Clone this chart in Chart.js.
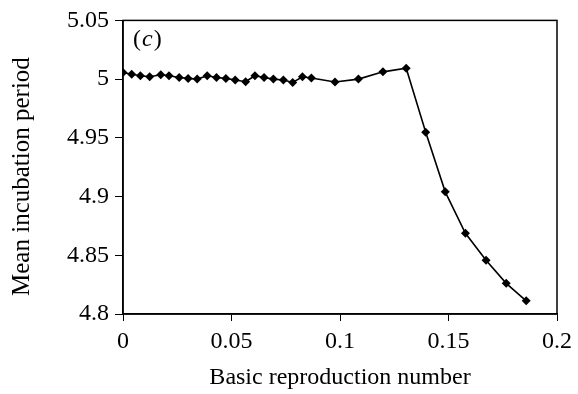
<!DOCTYPE html>
<html lang="en">
<head>
    <meta charset="UTF-8">
    <title>Mean incubation period vs basic reproduction number</title>
    <script src="https://cdn.jsdelivr.net/npm/chart.js"></script>
    <style>
        html, body { margin: 0; padding: 0; background: #fff; }
        canvas { display: block; }
    </style>
</head>
<body>
    <canvas id="incubation" width="578" height="394"></canvas>

    <script>
        // data
        const r0Values = [0, 0.004, 0.008, 0.0123, 0.0174, 0.0212, 0.0259, 0.030, 0.0342, 0.0388,
            0.0431, 0.0474, 0.0517, 0.0565, 0.0608, 0.065, 0.0693, 0.0739, 0.0782, 0.0827,
            0.0868, 0.0977, 0.1085, 0.1198, 0.1305, 0.1395, 0.1485, 0.1578, 0.1673, 0.1766, 0.1858];
        const meanIncubation = [5.0056, 5.0042, 5.0029, 5.002, 5.0037, 5.0029, 5.0014, 5.0006, 5.0, 5.0029,
            5.0014, 5.0006, 4.9992, 4.9978, 5.0029, 5.0014, 5.0, 4.9992, 4.9972, 5.002,
            5.001, 4.9975, 5.0, 5.0062, 5.0093, 4.9548, 4.904, 4.8687, 4.8457, 4.8261, 4.8112];
        const xTicks = [0, 0.05, 0.1, 0.15, 0.2];
        const yTicks = [4.8, 4.85, 4.9, 4.95, 5, 5.05];

        const serif = 'Liberation Serif, DejaVu Serif, serif';

        // box around plot area + panel label
        const framePlugin = {
            id: 'frame',
            afterDraw(chart) {
                const { ctx, chartArea: a } = chart;
                ctx.save();
                ctx.strokeStyle = '#000';
                ctx.lineWidth = 1.5;
                ctx.strokeRect(a.left, a.top, a.right - a.left, a.bottom - a.top);
                ctx.fillStyle = '#000';
                ctx.textBaseline = 'alphabetic';
                let x = a.left + 10;
                const y = a.top + 26;
                ctx.font = '24px ' + serif;
                ctx.fillText('(', x, y);
                x += ctx.measureText('(').width + 1;
                ctx.font = 'italic 24px ' + serif;
                ctx.fillText('c', x, y);
                x += ctx.measureText('c').width + 1;
                ctx.font = '24px ' + serif;
                ctx.fillText(')', x, y);
                ctx.restore();
            }
        };

        const points = r0Values.map((x, i) => ({ x: x, y: meanIncubation[i] }));

        new Chart(document.getElementById('incubation').getContext('2d'), {
            type: 'scatter',
            data: {
                datasets: [{
                    data: points,
                    showLine: true,
                    borderColor: '#000',
                    borderWidth: 1.6,
                    backgroundColor: '#000',
                    pointStyle: 'rectRot',
                    pointRadius: 4.5,
                    pointBorderWidth: 0
                }]
            },
            options: {
                responsive: false,
                animation: false,
                layout: { padding: { top: 17, right: 21, left: 0, bottom: 0 } },
                plugins: { legend: { display: false }, tooltip: { enabled: false } },
                scales: {
                    x: {
                        type: 'linear',
                        min: 0,
                        max: 0.2,
                        afterFit(scale) { scale.height = 80; },
                        afterBuildTicks(scale) { scale.ticks = xTicks.map(v => ({ value: v })); },
                        ticks: {
                            color: '#000',
                            font: { family: serif, size: 24 },
                            padding: 6,
                            maxRotation: 0,
                            callback: v => String(v)
                        },
                        grid: { drawOnChartArea: false, drawTicks: true, tickLength: 7, color: '#000', lineWidth: 1 },
                        border: { display: true, color: '#000', width: 1.5 },
                        title: {
                            display: true,
                            text: 'Basic reproduction number',
                            color: '#000',
                            font: { family: serif, size: 24 },
                            padding: { top: 0, bottom: 2 }
                        }
                    },
                    y: {
                        type: 'linear',
                        min: 4.8,
                        max: 5.05,
                        afterFit(scale) { scale.width = 123; },
                        afterBuildTicks(scale) { scale.ticks = yTicks.map(v => ({ value: v })); },
                        ticks: {
                            color: '#000',
                            font: { family: serif, size: 24 },
                            padding: 6,
                            callback: v => String(v)
                        },
                        grid: { drawOnChartArea: false, drawTicks: true, tickLength: 8, color: '#000', lineWidth: 1 },
                        border: { display: true, color: '#000', width: 1.5 },
                        title: {
                            display: true,
                            text: 'Mean incubation period   ',
                            color: '#000',
                            font: { family: serif, size: 25 },
                            padding: { top: 7, bottom: 0 }
                        }
                    }
                }
            },
            plugins: [framePlugin]
        });
    </script>
</body>
</html>
